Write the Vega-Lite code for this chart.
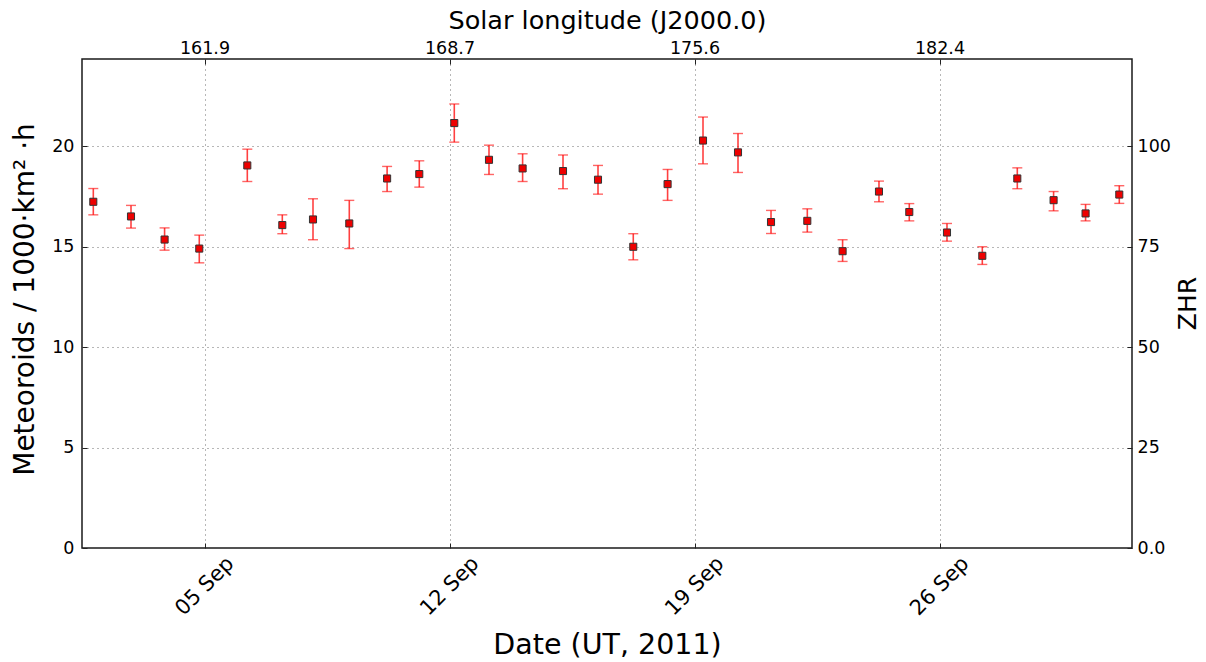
{
  "$schema": "https://vega.github.io/schema/vega-lite/v6.json",
  "width": 1050,
  "height": 489,
  "autosize": {"type": "none"},
  "padding": {"left": 82, "top": 59, "right": 74, "bottom": 114},
  "background": "white",
  "config": {
    "font": "DejaVu Sans",
    "view": {"stroke": "#1a1a1a", "strokeWidth": 1.5},
    "axis": {
      "domain": false,
      "labelFont": "DejaVu Sans",
      "titleFont": "DejaVu Sans",
      "labelColor": "#000000",
      "titleColor": "#000000",
      "titleFontWeight": "normal",
      "tickColor": "#222222",
      "tickSize": -5,
      "tickWidth": 1
    }
  },
  "data": {
    "values": [
      {"date": "2011-09-01T19:45:00Z", "value": 17.24, "lo": 16.59, "hi": 17.90},
      {"date": "2011-09-02T21:36:00Z", "value": 16.51, "lo": 15.93, "hi": 17.06},
      {"date": "2011-09-03T20:38:00Z", "value": 15.36, "lo": 14.83, "hi": 15.94},
      {"date": "2011-09-04T20:25:00Z", "value": 14.91, "lo": 14.20, "hi": 15.58},
      {"date": "2011-09-06T05:21:00Z", "value": 19.05, "lo": 18.25, "hi": 19.86},
      {"date": "2011-09-07T05:21:00Z", "value": 16.08, "lo": 15.65, "hi": 16.59},
      {"date": "2011-09-08T02:24:00Z", "value": 16.36, "lo": 15.35, "hi": 17.39},
      {"date": "2011-09-09T03:17:00Z", "value": 16.16, "lo": 14.91, "hi": 17.31},
      {"date": "2011-09-10T05:13:00Z", "value": 18.40, "lo": 17.75, "hi": 19.00},
      {"date": "2011-09-11T03:17:00Z", "value": 18.62, "lo": 17.97, "hi": 19.28},
      {"date": "2011-09-12T03:17:00Z", "value": 21.16, "lo": 20.21, "hi": 22.11},
      {"date": "2011-09-13T03:05:00Z", "value": 19.33, "lo": 18.60, "hi": 20.06},
      {"date": "2011-09-14T02:08:00Z", "value": 18.90, "lo": 18.25, "hi": 19.63},
      {"date": "2011-09-15T05:50:00Z", "value": 18.77, "lo": 17.89, "hi": 19.57},
      {"date": "2011-09-16T05:50:00Z", "value": 18.34, "lo": 17.62, "hi": 19.05},
      {"date": "2011-09-17T06:01:00Z", "value": 15.00, "lo": 14.35, "hi": 15.65},
      {"date": "2011-09-18T05:33:00Z", "value": 18.12, "lo": 17.31, "hi": 18.85},
      {"date": "2011-09-19T05:50:00Z", "value": 20.29, "lo": 19.13, "hi": 21.46},
      {"date": "2011-09-20T05:50:00Z", "value": 19.70, "lo": 18.70, "hi": 20.64},
      {"date": "2011-09-21T04:28:00Z", "value": 16.23, "lo": 15.66, "hi": 16.81},
      {"date": "2011-09-22T05:21:00Z", "value": 16.29, "lo": 15.73, "hi": 16.89},
      {"date": "2011-09-23T05:33:00Z", "value": 14.78, "lo": 14.27, "hi": 15.35},
      {"date": "2011-09-24T06:30:00Z", "value": 17.75, "lo": 17.24, "hi": 18.27},
      {"date": "2011-09-25T03:17:00Z", "value": 16.73, "lo": 16.29, "hi": 17.15},
      {"date": "2011-09-26T05:08:00Z", "value": 15.71, "lo": 15.28, "hi": 16.16},
      {"date": "2011-09-27T05:21:00Z", "value": 14.55, "lo": 14.12, "hi": 15.00},
      {"date": "2011-09-28T05:21:00Z", "value": 18.40, "lo": 17.89, "hi": 18.93},
      {"date": "2011-09-29T06:14:00Z", "value": 17.32, "lo": 16.79, "hi": 17.75},
      {"date": "2011-09-30T04:10:00Z", "value": 16.66, "lo": 16.29, "hi": 17.11},
      {"date": "2011-10-01T03:17:00Z", "value": 17.60, "lo": 17.16, "hi": 18.04}
    ]
  },
  "layer": [
    {
      "mark": {"type": "rule", "color": "#ff0000", "strokeWidth": 1.6, "opacity": 0.75},
      "encoding": {
        "x": {
          "field": "date", "type": "temporal",
          "scale": {"type": "utc", "domain": [{"year": 2011, "month": 9, "date": 1, "hours": 12, "utc": true}, {"year": 2011, "month": 10, "date": 1, "hours": 12, "utc": true}]},
          "axis": {
            "orient": "top",
            "values": [{"year": 2011, "month": 9, "date": 5, "utc": true}, {"year": 2011, "month": 9, "date": 12, "utc": true}, {"year": 2011, "month": 9, "date": 19, "utc": true}, {"year": 2011, "month": 9, "date": 26, "utc": true}],
            "labelExpr": "utcdate(datum.value) == 5 ? '161.9' : utcdate(datum.value) == 12 ? '168.7' : utcdate(datum.value) == 19 ? '175.6' : '182.4'",
            "labelFontSize": 17.5,
            "labelPadding": 11,
            "labelBaseline": "alphabetic",
            "grid": false,
            "title": "Solar longitude (J2000.0)",
            "titleFontSize": 25.5,
            "titleBaseline": "middle",
            "titleY": -39
          }
        },
        "y": {
          "field": "lo", "type": "quantitative",
          "scale": {"domain": [0, 24.35], "nice": false, "zero": true},
          "axis": {
            "orient": "right",
            "values": [0, 5, 10, 15, 20],
            "labelExpr": "datum.value == 0 ? '0.0' : format(datum.value * 5, 'd')",
            "labelFontSize": 17.5,
            "labelPadding": 10,
            "grid": false,
            "title": "ZHR",
            "titleFontSize": 25,
            "titleAngle": 270,
            "titleBaseline": "middle",
            "titleX": 55,
            "titleY": 244
          }
        },
        "y2": {"field": "hi"}
      }
    },
    {
      "mark": {"type": "tick", "orient": "horizontal", "color": "#ff0000", "size": 10, "thickness": 1.4, "opacity": 0.6},
      "encoding": {
        "x": {"field": "date", "type": "temporal", "axis": null},
        "y": {"field": "lo", "type": "quantitative", "axis": null}
      }
    },
    {
      "mark": {"type": "tick", "orient": "horizontal", "color": "#ff0000", "size": 10, "thickness": 1.4, "opacity": 0.6},
      "encoding": {
        "x": {"field": "date", "type": "temporal", "axis": null},
        "y": {"field": "hi", "type": "quantitative", "axis": null}
      }
    },
    {
      "mark": {"type": "point", "shape": "square", "filled": true, "size": 50, "fill": "#ee0000", "stroke": "#333333", "strokeWidth": 1, "opacity": 1},
      "encoding": {
        "x": {
          "field": "date", "type": "temporal",
          "axis": {
            "orient": "bottom",
            "values": [{"year": 2011, "month": 9, "date": 5, "utc": true}, {"year": 2011, "month": 9, "date": 12, "utc": true}, {"year": 2011, "month": 9, "date": 19, "utc": true}, {"year": 2011, "month": 9, "date": 26, "utc": true}],
            "labelExpr": "utcFormat(datum.value, '%d %b')",
            "labelAngle": -45,
            "labelAlign": "center",
            "labelBaseline": "middle",
            "labelFontSize": 21,
            "labelPadding": 43,
            "grid": true,
            "gridColor": "#555555",
            "gridDash": [1, 4],
            "gridWidth": 1,
            "gridOpacity": 0.85,
            "title": "Date (UT, 2011)",
            "titleFontSize": 28.5,
            "titleBaseline": "middle",
            "titleY": 96
          }
        },
        "y": {
          "field": "value", "type": "quantitative",
          "axis": {
            "orient": "left",
            "values": [0, 5, 10, 15, 20],
            "labelFontSize": 17.5,
            "labelPadding": 13,
            "grid": true,
            "gridColor": "#555555",
            "gridDash": [1, 4],
            "gridWidth": 1,
            "gridOpacity": 0.85,
            "title": "Meteoroids / 1000·km² ·h",
            "titleFontSize": 28,
            "titleAngle": 270,
            "titleBaseline": "middle",
            "titleX": -57,
            "titleY": 240
          }
        }
      }
    }
  ],
  "resolve": {"axis": {"x": "independent", "y": "independent"}}
}
